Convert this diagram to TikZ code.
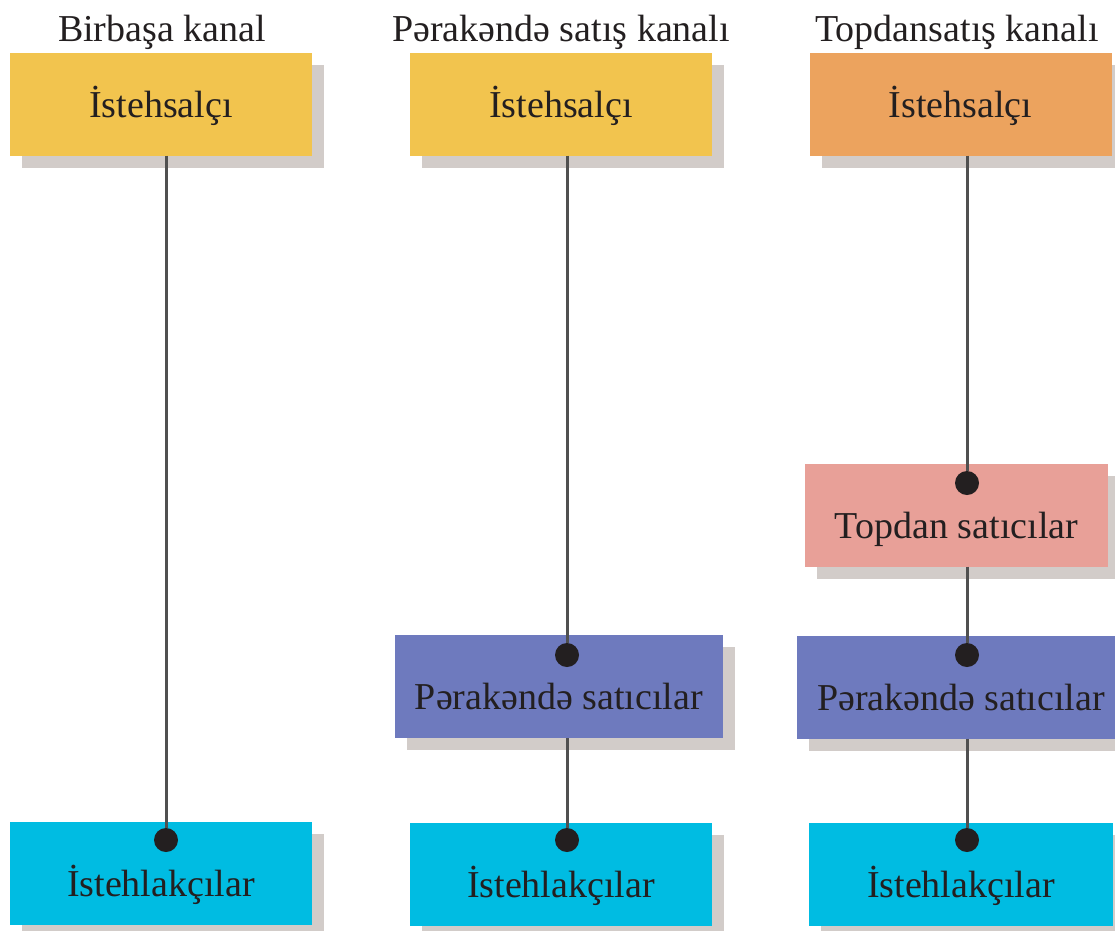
\documentclass[tikz,border=0pt]{standalone}
\usepackage{fontspec}
\setmainfont{Liberation Serif}
\usetikzlibrary{shadows}

\definecolor{ink}{RGB}{35,31,32}
\definecolor{wire}{RGB}{80,80,80}
\definecolor{shade}{RGB}{210,204,201}
\definecolor{yellowbox}{RGB}{242,196,78}
\definecolor{orangebox}{RGB}{236,163,94}
\definecolor{pinkbox}{RGB}{232,160,152}
\definecolor{bluebox}{RGB}{110,122,190}
\definecolor{cyanbox}{RGB}{0,188,226}

\tikzset{
  box/.style={rectangle, inner sep=0pt, minimum width=302pt, minimum height=103pt,
    text=ink, text height=35.5pt, text depth=9.5pt,
    font=\fontsize{38}{46}\selectfont,
    drop shadow={shadow xshift=12pt, shadow yshift=-12pt, fill=shade, opacity=1}},
  dotbox/.style={box, text height=55.5pt},
  dot/.style={circle, fill=ink, inner sep=0pt, minimum size=24pt},
  title/.style={anchor=base, text=ink, font=\fontsize{38}{46}\selectfont}
}

\begin{document}
\begin{tikzpicture}[x=1pt,y=-1pt]
  \useasboundingbox (0,0) rectangle (1115,930);

  \node[title] (t1) at (162,41) {Birbaşa kanal};
  \node[title] (t2) at (561,41) {Pərakəndə satış kanalı};
  \node[title] (t3) at (957,41) {Topdansatış kanalı};

  \begin{scope}[every node/.style={box}]
    \node[fill=yellowbox] (prod1) at (161,104) {İstehsalçı};
    \node[fill=yellowbox] (prod2) at (561,104) {İstehsalçı};
    \node[fill=orangebox] (prod3) at (960.5,104) {İstehsalçı};
    \node[dotbox, fill=pinkbox, minimum width=303pt] (whole3) at (956.5,515) {Topdan satıcılar};
    \node[dotbox, fill=bluebox, minimum width=328pt] (ret2) at (559,686.5) {Pərakəndə satıcılar};
    \node[dotbox, fill=bluebox, minimum width=328pt] (ret3) at (961,687) {Pərakəndə satıcılar};
    \node[dotbox, fill=cyanbox] (cons1) at (161,873.5) {İstehlakçılar};
    \node[dotbox, fill=cyanbox] (cons2) at (561,874) {İstehlakçılar};
    \node[dotbox, fill=cyanbox, minimum width=304pt] (cons3) at (961,874) {İstehlakçılar};
  \end{scope}

  \begin{scope}[every node/.style={dot}]
    \node (dcons1)  at (166,840) {};
    \node (dcons2)  at (567,840) {};
    \node (dcons3)  at (967,840) {};
    \node (dret2)   at (567,655) {};
    \node (dret3)   at (967,655) {};
    \node (dwhole3) at (967,483) {};
  \end{scope}

  \begin{scope}[every edge/.style={draw=wire, line width=3pt}]
    \path (prod1.south -| dcons1) edge (dcons1);
    \path (prod2.south -| dret2) edge (dret2);
    \path (ret2.south -| dcons2) edge (dcons2);
    \path (prod3.south -| dwhole3) edge (dwhole3);
    \path (whole3.south -| dret3) edge (dret3);
    \path (ret3.south -| dcons3) edge (dcons3);
  \end{scope}

\end{tikzpicture}
\end{document}
